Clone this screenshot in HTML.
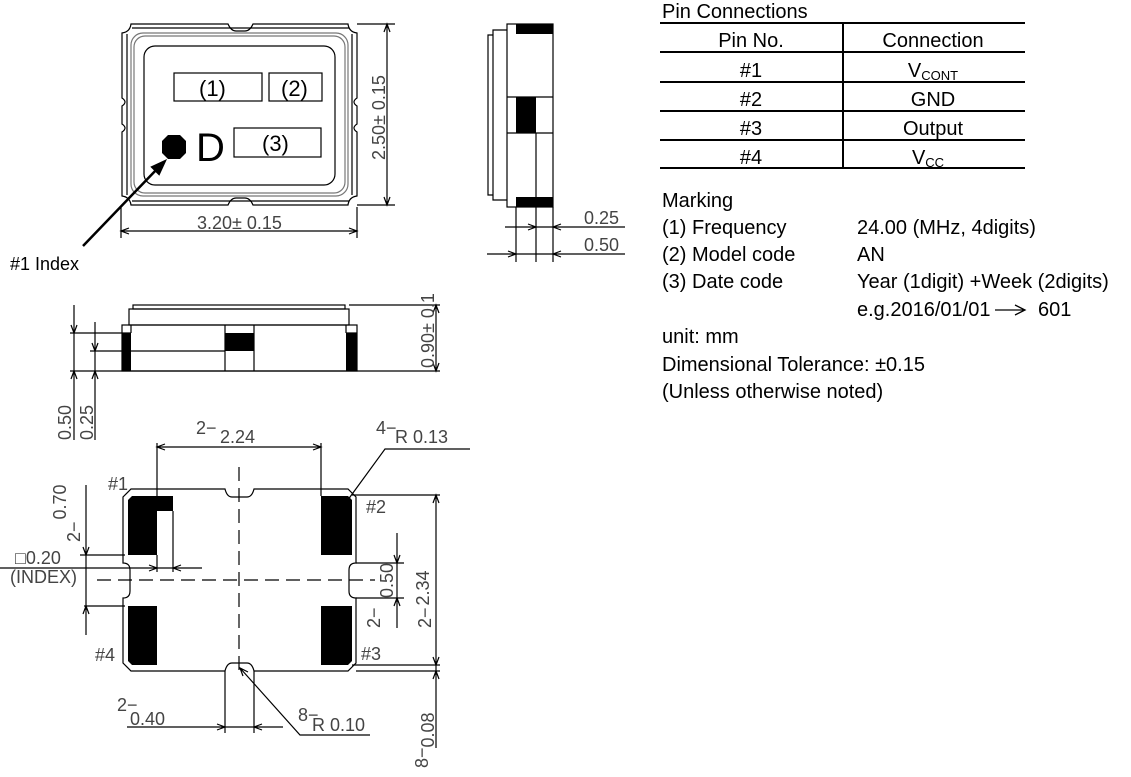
<!DOCTYPE html>
<html><head><meta charset="utf-8"><style>
html,body{margin:0;padding:0;background:#fff;}
svg{display:block;}
.t{font-family:"Liberation Sans",sans-serif;fill:#000;}
.d{font-family:"Liberation Sans",sans-serif;fill:#444;font-size:18px;}
</style></head><body>
<svg width="1131" height="777" viewBox="0 0 1131 777" xmlns="http://www.w3.org/2000/svg">
<g fill="none" stroke="#000" stroke-width="1.2">
<!-- TOP VIEW -->
<path d="M131,24 H228 Q231,31 236,31 H245 Q250,31 253,24 H348 Q349,32 357,33 V98 Q351,102 357,106 V124 Q351,128 357,132 V196 Q349,197 348,205 H253 Q250,198 245,198 H236 Q231,198 228,205 H131 Q130,197 122,196 V132 Q128,128 122,124 V106 Q128,102 122,98 V33 Q130,32 131,24 Z"/>
<path d="M127,34 V195 M352,34 V195 M132,28 H349 M132,201 H349"/>
<rect x="131" y="33" width="217" height="163" rx="12" stroke="#777"/>
<rect x="134" y="36" width="211" height="157" rx="11" stroke="#777"/>
<rect x="144" y="46" width="191" height="139" rx="11"/>
<rect x="174" y="73" width="88" height="28"/>
<rect x="269" y="73" width="53" height="28"/>
<rect x="234" y="128" width="87" height="29"/>
<path d="M121,207 V238 M357,207 V238 M121,231 H357 M129,228 L121,231 L129,234 M349,228 L357,231 L349,234"/>
<path d="M357,24 H395 M357,205 H395 M387,24 V205 M384,32 L387,24 L390,32 M384,197 L387,205 L390,197"/>
<!-- SIDE VIEW -->
<rect x="507" y="24" width="46" height="183"/>
<path d="M507,30 H493 V200 H507 M493,35 H488 V195 H493"/>
<path d="M507,97 H553 M507,133 H553 M536,133 V262 M516,207 V262 M553,207 V262"/>
<path d="M505,227 H625 M487,254 H625 M528,224 L536,227 L528,230 M561,224 L553,227 L561,230 M508,251 L516,254 L508,257 M561,251 L553,254 L561,257"/>
<!-- FRONT VIEW -->
<rect x="133" y="305" width="212" height="4"/>
<rect x="129" y="309" width="220" height="16"/>
<rect x="122" y="325" width="235" height="46"/>
<path d="M122,333 H131 M346,333 H357 M225,325 V371 M254,325 V371 M131,325 V333 M346,325 V333"/>
<path d="M70,333 H122 M90,351 H225 M70,371 H440 M74,305 V440 M95,322 V440"/>
<path d="M71,325 L74,333 L77,325 M92,343 L95,351 L98,343 M71,379 L74,371 L77,379 M92,379 L95,371 L98,379"/>
<path d="M349,305 H440 M436,305 V371 M433,313 L436,305 L439,313 M433,363 L436,371 L439,363"/>
<!-- BOTTOM VIEW -->
<path d="M131,489 H225 Q227,497 232,497 H247 Q252,497 254,489 H348 L356,497 V563 Q349,563 349,570 V591 Q349,598 356,598 V663 L348,671 H254 Q252,663 247,663 H232 Q227,663 225,671 H131 L123,663 V598 Q130,598 130,591 V570 Q130,563 123,563 V497 Z"/>
<path d="M239,467 V675 M97,580 H375" stroke-dasharray="14,7"/>
<path d="M157,443 V496 M321,443 V496 M157,447 H321 M165,444 L157,447 L165,450 M313,444 L321,447 L313,450"/>
<path d="M350,497 L385,449 H470 M343,502 L350,497 L347,505"/>
<path d="M86,485 V635 M80,555 H125 M84,606 H125 M83,547 L86,555 L89,547 M83,614 L86,606 L89,614"/>
<path d="M0,568 H202 M157,555 V572 M173,511 V572 M149,565 L157,568 L149,571 M181,565 L173,568 L181,571"/>
<path d="M356,563 H404 M356,598 H404 M397,533 V628 M394,555 L397,563 L400,555 M394,606 L397,598 L400,606"/>
<path d="M352,495 H440 M352,665 H440 M356,671 H440 M436,495 V748 M433,503 L436,495 L439,503 M433,657 L436,665 L439,657 M433,679 L436,671 L439,679"/>
<path d="M225,671 V733 M254,671 V733 M127,727 H283 M217,724 L225,727 L217,730 M262,724 L254,727 L262,730"/>
<path d="M240,668 L300,735 H370 M243,676 L240,668 L248,672"/>
</g>
<g fill="#000">
<path d="M168,135 L180,135 L186,141 L186,153 L180,159 L168,159 L162,153 L162,141 Z"/>
<rect x="516" y="24" width="37" height="10"/><rect x="516" y="197" width="37" height="10"/><rect x="516" y="97" width="20" height="36"/>
<rect x="122" y="333" width="9" height="38"/><rect x="346" y="333" width="11" height="38"/><rect x="225" y="333" width="29" height="18"/>
<path d="M132,496 H173 V511 H157 V555 H128 V500 Z"/>
<path d="M321,496 H348 L352,500 V555 H321 Z"/>
<path d="M128,606 H157 V665 H132 L128,661 Z"/>
<path d="M321,606 H352 V661 L348,665 H321 Z"/>
</g>
<path d="M83,246 L158,168" stroke="#000" stroke-width="2.5"/>
<path d="M165,161 L152,167 L159,174 Z" fill="#000" stroke="#000" stroke-width="2"/>
<text class="t" x="199" y="96" font-size="22" fill="#222">(1)</text>
<text class="t" x="281" y="96" font-size="22">(2)</text>
<text class="t" x="262" y="151" font-size="22">(3)</text>
<text class="t" x="196" y="161" font-size="40">D</text>
<text class="d" x="197" y="229">3.20± 0.15</text>
<text class="d" transform="translate(385,160) rotate(-90)">2.50± 0.15</text>
<text class="t" x="10" y="270" font-size="18">#1 Index</text>
<text class="d" x="584" y="224">0.25</text>
<text class="d" x="584" y="251">0.50</text>
<text class="d" transform="translate(71,440) rotate(-90)">0.50</text>
<text class="d" transform="translate(93,440) rotate(-90)">0.25</text>
<text class="d" transform="translate(434,368) rotate(-90)" font-size="15">0.90± 0.1</text>
<text class="d" x="196" y="434">2−</text><text class="d" x="220" y="443">2.24</text>
<text class="d" x="376" y="434">4−</text><text class="d" x="395" y="443">R 0.13</text>
<text class="d" x="108" y="490" font-size="14">#1</text>
<text class="d" x="366" y="513" font-size="14">#2</text>
<text class="d" x="361" y="660" font-size="14">#3</text>
<text class="d" x="95" y="661" font-size="14">#4</text>
<text class="d" transform="translate(80,542) rotate(-90)">2−<tspan dx="2" dy="-14">0.70</tspan></text>
<text class="d" x="15" y="564">□0.20</text>
<text class="d" x="10" y="583" font-size="16">(INDEX)</text>
<text class="d" transform="translate(393,598) rotate(-90)">0.50</text>
<text class="d" transform="translate(380,628) rotate(-90)">2−</text>
<text class="d" transform="translate(431,628) rotate(-90)">2−<tspan dx="2" dy="-2">2.34</tspan></text>
<text class="d" x="117" y="711">2−</text><text class="d" x="130" y="725">0.40</text>
<text class="d" x="298" y="721">8−</text><text class="d" x="312" y="731">R 0.10</text>
<text class="d" transform="translate(428,768) rotate(-90)">8−<tspan dx="0" dy="6">0.08</tspan></text>
<!-- RIGHT TEXT -->
<g stroke="#000" stroke-width="2">
<path d="M660,23 H1025 M660,52 H1025 M660,82 H1025 M660,111 H1025 M660,140 H1025 M660,168 H1025 M843,23 V168"/>
</g>
<g class="t" font-size="20">
<text x="662" y="18">Pin Connections</text>
<text x="751" y="47" text-anchor="middle">Pin No.</text>
<text x="933" y="47" text-anchor="middle">Connection</text>
<text x="751" y="77" text-anchor="middle">#1</text>
<text x="933" y="77" text-anchor="middle">V<tspan font-size="13" dy="3">CONT</tspan></text>
<text x="751" y="106" text-anchor="middle">#2</text>
<text x="933" y="106" text-anchor="middle">GND</text>
<text x="751" y="135" text-anchor="middle">#3</text>
<text x="933" y="135" text-anchor="middle">Output</text>
<text x="751" y="164" text-anchor="middle">#4</text>
<text x="928" y="164" text-anchor="middle">V<tspan font-size="13" dy="3">CC</tspan></text>
<text x="662" y="207">Marking</text>
<text x="662" y="234">(1) Frequency</text><text x="857" y="234">24.00 (MHz, 4digits)</text>
<text x="662" y="261">(2) Model code</text><text x="857" y="261">AN</text>
<text x="662" y="288">(3) Date code</text><text x="857" y="288">Year (1digit) +Week (2digits)</text>
<text x="857" y="316">e.g.2016/01/01</text><text x="1038" y="316">601</text>
<text x="662" y="343">unit: mm</text>
<text x="662" y="371">Dimensional Tolerance: ±0.15</text>
<text x="662" y="398">(Unless otherwise noted)</text>
</g>
<path d="M995,310 H1025 M1015,305 L1025,310 L1015,315" fill="none" stroke="#000" stroke-width="1.3"/>
</svg>
</body></html>
